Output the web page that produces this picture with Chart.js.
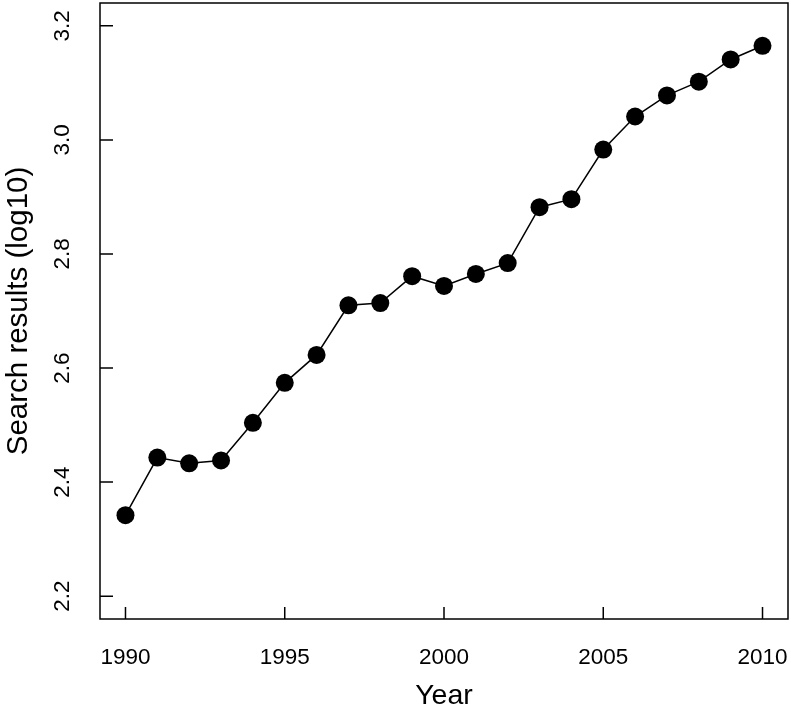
<!DOCTYPE html>
<html>
<head>
<meta charset="utf-8">
<script src="https://cdn.jsdelivr.net/npm/chart.js@4/dist/chart.umd.min.js"></script>
<style>
  html, body { margin: 0; padding: 0; background: #fff; }
  #wrap { width: 791px; height: 713px; }
</style>
</head>
<body>
<div id="wrap"><canvas id="myChart" width="791" height="713"></canvas></div>
<script>
// data
var years = [1990, 1991, 1992, 1993, 1994, 1995, 1996, 1997, 1998, 1999, 2000,
  2001, 2002, 2003, 2004, 2005, 2006, 2007, 2008, 2009, 2010];
var searchLog = [2.342, 2.443, 2.433, 2.438, 2.504, 2.574, 2.623, 2.710, 2.714, 2.761, 2.744,
  2.765, 2.784, 2.882, 2.896, 2.983, 3.041, 3.078, 3.102, 3.141, 3.165];
var xTicks = [1990, 1995, 2000, 2005, 2010];
var yTicks = [2.2, 2.4, 2.6, 2.8, 3.0, 3.2];

var points = years.map(function (y, i) { return { x: y, y: searchLog[i] }; });
var font = "'Liberation Sans', Arial, Helvetica, sans-serif";

// box round the plot and ticks pointing inwards, like R
var boxPlugin = {
  id: "box",
  afterDraw: function (chart) {
    var ctx = chart.ctx;
    var a = chart.chartArea;
    var xs = chart.scales.x;
    var ys = chart.scales.y;
    ctx.save();
    ctx.strokeStyle = "#000";
    ctx.lineWidth = 1.5;
    ctx.strokeRect(a.left, a.top, a.right - a.left, a.bottom - a.top);
    ctx.beginPath();
    xTicks.forEach(function (t) {
      var px = xs.getPixelForValue(t);
      ctx.moveTo(px, a.bottom);
      ctx.lineTo(px, a.bottom - 12);
    });
    yTicks.forEach(function (t) {
      var py = ys.getPixelForValue(t);
      ctx.moveTo(a.left, py);
      ctx.lineTo(a.left + 13, py);
    });
    ctx.stroke();
    ctx.restore();
  }
};

var ctx = document.getElementById("myChart").getContext("2d");
new Chart(ctx, {
  type: "line",
  data: {
    datasets: [{
      data: points,
      borderColor: "#000",
      borderWidth: 1.5,
      backgroundColor: "#000",
      pointRadius: 9,
      pointHoverRadius: 9,
      pointBorderWidth: 0,
      tension: 0
    }]
  },
  options: {
    responsive: false,
    animation: false,
    events: [],
    layout: { autoPadding: false, padding: { top: 3, right: 3, left: 0, bottom: 0 } },
    plugins: { legend: { display: false }, tooltip: { enabled: false } },
    scales: {
      x: {
        type: "linear",
        min: 1989.2,
        max: 2010.8,
        afterBuildTicks: function (s) { s.ticks = xTicks.map(function (v) { return { value: v }; }); },
        afterFit: function (s) { s.height = 94; s.paddingLeft = 0; s.paddingRight = 0; },
        grid: { display: false, drawTicks: false },
        border: { display: false },
        ticks: {
          color: "#000",
          font: { family: font, size: 22.5 },
          padding: 25,
          maxRotation: 0,
          callback: function (v) { return String(v); }
        },
        title: {
          display: true,
          text: "Year",
          color: "#000",
          font: { family: font, size: 28.5 },
          padding: { top: 0, bottom: 0 }
        }
      },
      y: {
        min: 2.16,
        max: 3.24,
        afterBuildTicks: function (s) { s.ticks = yTicks.map(function (v) { return { value: v }; }); },
        afterFit: function (s) { s.width = 100; s.paddingTop = 0; s.paddingBottom = 0; },
        grid: { display: false, drawTicks: false },
        border: { display: false },
        ticks: {
          color: "#000",
          font: { family: font, size: 22.5 },
          padding: 22,
          minRotation: 90,
          maxRotation: 90,
          crossAlign: "center",
          callback: function (v) { return v.toFixed(1); }
        },
        title: {
          display: true,
          text: "Search results (log10)",
          color: "#000",
          font: { family: font, size: 29.5 },
          padding: { top: 1, bottom: 0 }
        }
      }
    }
  },
  plugins: [boxPlugin]
});
</script>
</body>
</html>
